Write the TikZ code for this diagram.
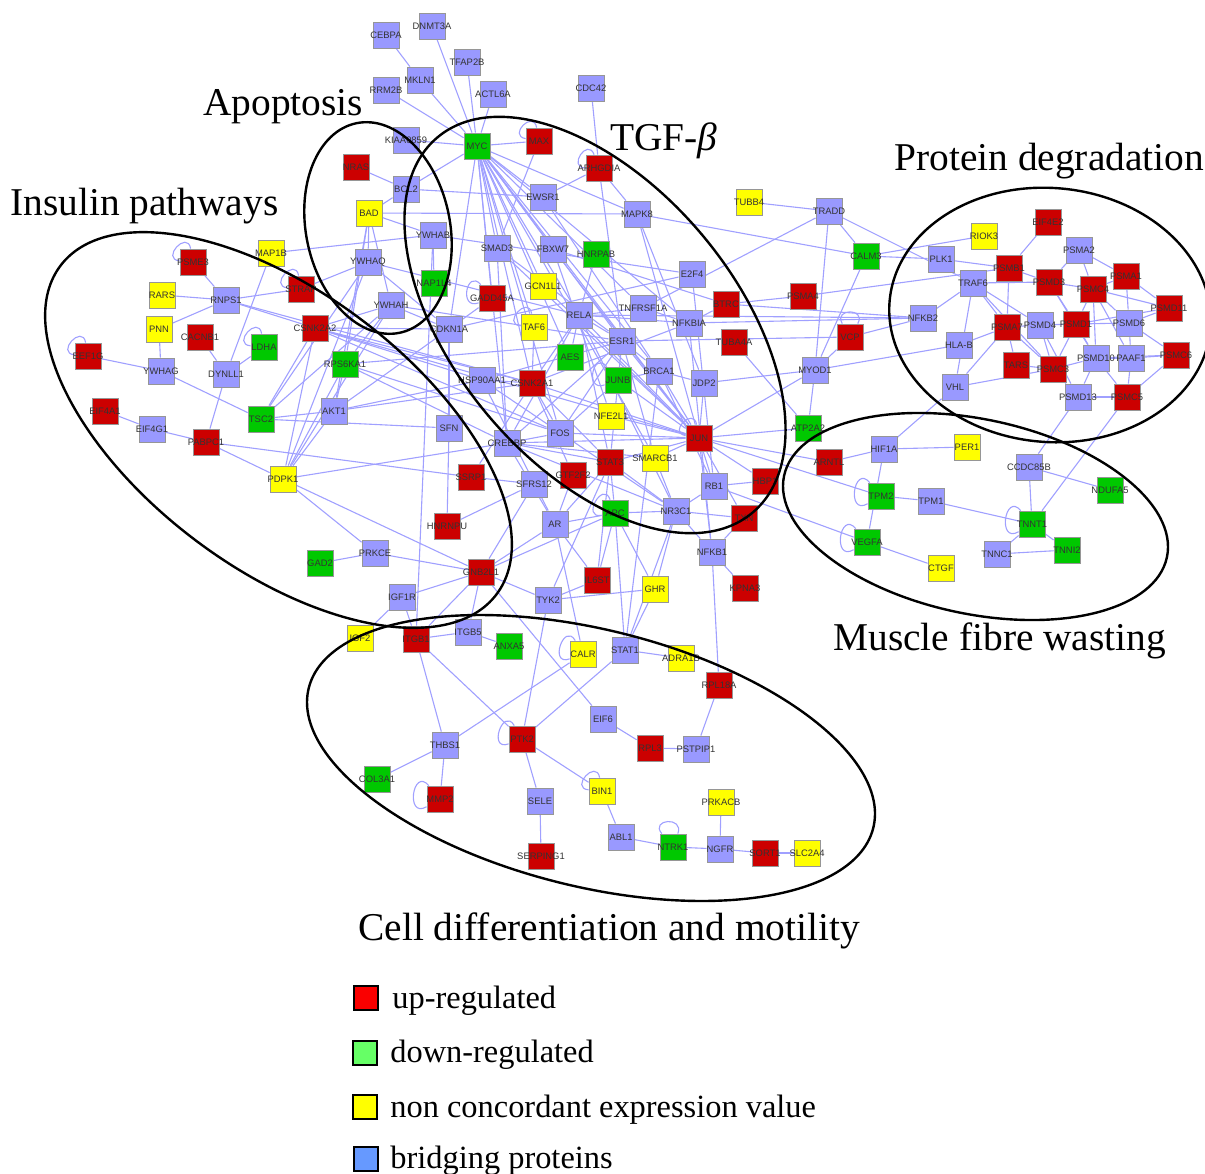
\documentclass[tikz,border=0pt]{standalone}
\usepackage{fontspec}
\setmainfont{Liberation Serif}
\newfontfamily\genefont{Liberation Sans}
\usetikzlibrary{backgrounds}
\definecolor{upc}{RGB}{204,0,0}
\definecolor{dnc}{RGB}{0,200,0}
\definecolor{ncc}{RGB}{255,255,0}
\definecolor{brc}{RGB}{153,153,255}
\definecolor{edgec}{RGB}{160,160,255}
\definecolor{nodeb}{RGB}{150,150,150}
\definecolor{lgup}{RGB}{250,0,0}
\definecolor{lgdn}{RGB}{102,255,102}
\definecolor{lgnc}{RGB}{255,255,0}
\definecolor{lgbr}{RGB}{102,153,255}
\tikzset{
 gene/.style={draw=nodeb, line width=0.4pt, minimum size=13pt, inner sep=0pt, font=\genefont\fontsize{4.7}{4.7}\selectfont, text=black!80,
   execute at begin node={\hbox to 0pt\bgroup\hss}, execute at end node={\hss\egroup}},
 gR/.style={gene, fill=upc}, gG/.style={gene, fill=dnc}, gY/.style={gene, fill=ncc}, gB/.style={gene, fill=brc},
 edge/.style={draw=edgec, line width=0.55pt},
 grp/.style={draw=black, line width=1.2pt},
 title/.style={font=\fontsize{19.7}{22}\selectfont, anchor=base west, inner sep=0pt},
 legtxt/.style={font=\fontsize{16.2}{18}\selectfont, anchor=base west, inner sep=0pt},
 legbox/.style={draw=black, line width=1pt, minimum size=12pt, inner sep=0pt}
}
\begin{document}
\begin{tikzpicture}[x=0.5pt,y=-0.5pt]
\useasboundingbox (0,0) rectangle (1205,1173);
% ---------------- nodes ----------------
\node[gB] (CEBPA) at (386,35) {CEBPA};
\node[gB] (DNMT3A) at (432,26) {DNMT3A};
\node[gB] (TFAP2B) at (467,62) {TFAP2B};
\node[gB] (MKLN1) at (420,80) {MKLN1};
\node[gB] (RRM2B) at (386,90) {RRM2B};
\node[gB] (ACTL6A) at (493,94) {ACTL6A};
\node[gB] (CDC42) at (591,88) {CDC42};
\node[gB] (KIAA0859) at (406,140) {KIAA0859};
\node[gG] (MYC) at (477,146) {MYC};
\node[gR] (MAX) at (539,141) {MAX};
\node[gR] (ARHGDIA) at (599,168) {ARHGDIA};
\node[gR] (NRAS) at (356,167) {NRAS};
\node[gB] (BCL2) at (406,189) {BCL2};
\node[gY] (BAD) at (369,213) {BAD};
\node[gB] (EWSR1) at (543,197) {EWSR1};
\node[gB] (MAPK8) at (637,214) {MAPK8};
\node[gY] (TUBB4) at (749,202) {TUBB4};
\node[gB] (TRADD) at (829,211) {TRADD};
\node[gR] (EIF4E2) at (1048,222) {EIF4E2};
\node[gY] (RIOK3) at (984,236) {RIOK3};
\node[gB] (YWHAB) at (433,235) {YWHAB};
\node[gY] (MAP1B) at (271,253) {MAP1B};
\node[gB] (SMAD3) at (497,248) {SMAD3};
\node[gB] (FBXW7) at (553,249) {FBXW7};
\node[gG] (HNRPAB) at (596,254) {HNRPAB};
\node[gG] (CALM3) at (866,256) {CALM3};
\node[gB] (PSMA2) at (1079,250) {PSMA2};
\node[gB] (PLK1) at (941,259) {PLK1};
\node[gR] (PSME3) at (193,262) {PSME3};
\node[gB] (YWHAQ) at (368,262) {YWHAQ};
\node[gR] (PSMB1) at (1009,268) {PSMB1};
\node[gB] (E2F4) at (692,274) {E2F4};
\node[gR] (PSMA1) at (1126,276) {PSMA1};
\node[gR] (PSMD3) at (1049,282) {PSMD3};
\node[gB] (TRAF6) at (973,283) {TRAF6};
\node[gG] (NAP1L4) at (434,283) {NAP1L4};
\node[gY] (GCN1L1) at (543,286) {GCN1L1};
\node[gR] (STRAP) at (301,289) {STRAP};
\node[gR] (PSMC4) at (1093,289) {PSMC4};
\node[gY] (RARS) at (162,295) {RARS};
\node[gR] (PSMA4) at (803,296) {PSMA4};
\node[gR] (GADD45A) at (492,298) {GADD45A};
\node[gB] (RNPS1) at (226,300) {RNPS1};
\node[gR] (BTRC) at (726,304) {BTRC};
\node[gB] (YWHAH) at (391,305) {YWHAH};
\node[gB] (TNFRSF1A) at (643,308) {TNFRSF1A};
\node[gR] (PSMD11) at (1169,308) {PSMD11};
\node[gB] (RELA) at (579,315) {RELA};
\node[gB] (NFKB2) at (923,318) {NFKB2};
\node[gB] (NFKBIA) at (689,323) {NFKBIA};
\node[gB] (PSMD6) at (1129,323) {PSMD6};
\node[gR] (PSMD1) at (1076,324) {PSMD1};
\node[gB] (PSMD4) at (1040,325) {PSMD4};
\node[gR] (PSMA7) at (1007,327) {PSMA7};
\node[gY] (TAF6) at (534,327) {TAF6};
\node[gR] (CSNK2A2) at (315,328) {CSNK2A2};
\node[gB] (CDKN1A) at (449,329) {CDKN1A};
\node[gY] (PNN) at (159,329) {PNN};
\node[gR] (CACNB1) at (200,337) {CACNB1};
\node[gR] (VCP) at (850,337) {VCP};
\node[gB] (ESR1) at (622,341) {ESR1};
\node[gR] (TUBA4A) at (734,342) {TUBA4A};
\node[gB] (HLAB) at (959,345) {HLA-B};
\node[gG] (LDHA) at (264,347) {LDHA};
\node[gR] (PSMC6) at (1176,355) {PSMC6};
\node[gR] (EEF1G) at (88,356) {EEF1G};
\node[gG] (AES) at (570,357) {AES};
\node[gB] (PSMD10) at (1096,358) {PSMD10};
\node[gB] (PAAF1) at (1131,358) {PAAF1};
\node[gG] (RPS6KA1) at (345,364) {RPS6KA1};
\node[gR] (TARS) at (1016,365) {TARS};
\node[gR] (PSMC3) at (1053,369) {PSMC3};
\node[gB] (MYOD1) at (815,370) {MYOD1};
\node[gB] (YWHAG) at (161,371) {YWHAG};
\node[gB] (BRCA1) at (659,371) {BRCA1};
\node[gB] (DYNLL1) at (226,374) {DYNLL1};
\node[gB] (HSP90AA1) at (482,380) {HSP90AA1};
\node[gG] (JUNB) at (618,380) {JUNB};
\node[gR] (CSNK2A1) at (532,383) {CSNK2A1};
\node[gB] (JDP2) at (704,383) {JDP2};
\node[gB] (VHL) at (955,387) {VHL};
\node[gB] (PSMD13) at (1078,397) {PSMD13};
\node[gR] (PSMC5) at (1127,397) {PSMC5};
\node[gR] (EIF4A1) at (105,411) {EIF4A1};
\node[gB] (AKT1) at (334,411) {AKT1};
\node[gY] (NFE2L1) at (611,416) {NFE2L1};
\node[gG] (TSC2) at (261,419) {TSC2};
\node[gB] (SFN) at (449,428) {SFN};
\node[gG] (ATP2A2) at (808,428) {ATP2A2};
\node[gB] (EIF4G1) at (152,429) {EIF4G1};
\node[gB] (FOS) at (560,433) {FOS};
\node[gR] (JUN) at (699,438) {JUN};
\node[gR] (PABPC1) at (206,442) {PABPC1};
\node[gB] (CREBBP) at (507,443) {CREBBP};
\node[gY] (PER1) at (967,447) {PER1};
\node[gB] (HIF1A) at (884,449) {HIF1A};
\node[gY] (SMARCB1) at (655,458) {SMARCB1};
\node[gR] (STAT3) at (610,462) {STAT3};
\node[gR] (ARNTL) at (829,462) {ARNTL};
\node[gB] (CCDC85B) at (1029,467) {CCDC85B};
\node[gR] (GTF2F2) at (573,475) {GTF2F2};
\node[gR] (SSRP1) at (471,477) {SSRP1};
\node[gY] (PDPK1) at (283,479) {PDPK1};
\node[gR] (HBP1) at (765,481) {HBP1};
\node[gB] (SFRS12) at (534,484) {SFRS12};
\node[gB] (RB1) at (714,486) {RB1};
\node[gG] (NDUFA5) at (1110,490) {NDUFA5};
\node[gG] (TPM2) at (881,496) {TPM2};
\node[gB] (TPM1) at (931,501) {TPM1};
\node[gB] (NR3C1) at (676,511) {NR3C1};
\node[gG] (APC) at (615,513) {APC};
\node[gR] (TXN) at (744,518) {TXN};
\node[gB] (AR) at (555,524) {AR};
\node[gG] (TNNT1) at (1032,524) {TNNT1};
\node[gR] (HNRNPU) at (447,526) {HNRNPU};
\node[gG] (VEGFA) at (867,542) {VEGFA};
\node[gG] (TNNI2) at (1067,550) {TNNI2};
\node[gB] (NFKB1) at (712,552) {NFKB1};
\node[gB] (PRKCE) at (375,553) {PRKCE};
\node[gB] (TNNC1) at (997,554) {TNNC1};
\node[gG] (GAD2) at (320,563) {GAD2};
\node[gY] (CTGF) at (941,568) {CTGF};
\node[gR] (GNB2L1) at (481,572) {GNB2L1};
\node[gR] (IL6ST) at (597,580) {IL6ST};
\node[gR] (KPNA3) at (745,588) {KPNA3};
\node[gY] (GHR) at (655,589) {GHR};
\node[gB] (IGF1R) at (402,597) {IGF1R};
\node[gB] (TYK2) at (548,600) {TYK2};
\node[gB] (ITGB5) at (468,632) {ITGB5};
\node[gY] (IGF2) at (360,638) {IGF2};
\node[gR] (ITGB1) at (416,639) {ITGB1};
\node[gG] (ANXA5) at (509,646) {ANXA5};
\node[gB] (STAT1) at (625,650) {STAT1};
\node[gY] (CALR) at (583,654) {CALR};
\node[gY] (ADRA1B) at (681,658) {ADRA1B};
\node[gR] (RPL18A) at (719,685) {RPL18A};
\node[gB] (EIF6) at (603,719) {EIF6};
\node[gR] (PTK2) at (522,739) {PTK2};
\node[gB] (THBS1) at (445,745) {THBS1};
\node[gR] (RPL3) at (650,748) {RPL3};
\node[gB] (PSTPIP1) at (696,749) {PSTPIP1};
\node[gG] (COL3A1) at (377,779) {COL3A1};
\node[gY] (BIN1) at (602,791) {BIN1};
\node[gR] (MMP2) at (440,799) {MMP2};
\node[gB] (SELE) at (540,801) {SELE};
\node[gY] (PRKACB) at (721,802) {PRKACB};
\node[gB] (ABL1) at (621,837) {ABL1};
\node[gG] (NTRK1) at (673,847) {NTRK1};
\node[gB] (NGFR) at (720,849) {NGFR};
\node[gR] (SORT1) at (765,853) {SORT1};
\node[gY] (SLC2A4) at (807,853) {SLC2A4};
\node[gR] (SERPING1) at (541,856) {SERPING1};
% ---------------- edges ----------------
\begin{scope}[on background layer]
\foreach \a/\b in {CEBPA/MKLN1, MKLN1/MYC, DNMT3A/MYC, TFAP2B/MYC, ACTL6A/MYC, RRM2B/MYC, KIAA0859/MYC, MYC/MAX,
 CDC42/ARHGDIA, ARHGDIA/EWSR1, ARHGDIA/ESR1, ARHGDIA/MAPK8, MAX/SMAD3, MYC/BCL2, MYC/CDKN1A, MYC/GADD45A, MYC/SMAD3,
 MYC/TAF6, MYC/RELA, MYC/FBXW7, MYC/EWSR1, MYC/ESR1, MYC/JUN, MYC/BRCA1, MYC/NFKBIA, MYC/TNFRSF1A, MYC/FOS,
 MYC/CREBBP, MYC/CSNK2A1, MYC/AES, MYC/SMARCB1, MYC/MAPK8, MYC/GCN1L1,
 NRAS/BCL2, BAD/BCL2, BAD/YWHAQ, BAD/YWHAH, BAD/YWHAB, BAD/MAPK8, BAD/AKT1, BAD/RPS6KA1, BCL2/EWSR1,
 TUBB4/TRADD, TRADD/CALM3, TRADD/MYOD1, TRADD/TNFRSF1A, TRADD/TRAF6, EIF4E2/PSMB1,
 MAP1B/YWHAB, MAP1B/DYNLL1, MAPK8/JUN, MAPK8/JDP2, EWSR1/BRCA1,
 PSME3/RNPS1, RARS/RNPS1, PNN/RNPS1, PNN/YWHAG, RNPS1/STRAP, RNPS1/CSNK2A2, RNPS1/CSNK2A1, CACNB1/DYNLL1,
 LDHA/DYNLL1, EEF1G/YWHAG, YWHAG/TSC2, DYNLL1/PABPC1, EIF4A1/EIF4G1, EIF4G1/PABPC1, PABPC1/SSRP1, PABPC1/PDPK1,
 CSNK2A2/TSC2, CSNK2A2/CSNK2A1, CSNK2A2/CDKN1A, CSNK2A2/JUN, CSNK2A2/FOS, CSNK2A2/HSP90AA1, CSNK2A2/YWHAH,
 STRAP/YWHAQ, RPS6KA1/AKT1, RPS6KA1/CREBBP, RPS6KA1/YWHAH, RPS6KA1/ESR1, RPS6KA1/FOS,
 TSC2/AKT1, TSC2/YWHAQ, TSC2/YWHAH, TSC2/SFN, AKT1/PDPK1, AKT1/HSP90AA1, AKT1/CDKN1A, AKT1/CSNK2A1,
 PDPK1/PRKCE, PDPK1/GNB2L1, PDPK1/YWHAQ, PDPK1/YWHAH, PDPK1/RPS6KA1, PDPK1/CSNK2A2, PDPK1/CREBBP,
 PRKCE/GAD2, PRKCE/GNB2L1, IGF1R/IGF2, IGF1R/ITGB1, IGF1R/GNB2L1, ITGB1/YWHAB,
 YWHAB/NAP1L4, YWHAQ/CDKN1A, YWHAH/CDKN1A, YWHAQ/RELA, YWHAH/ESR1, YWHAB/E2F4,
 SMAD3/JUN, SMAD3/CREBBP, SMAD3/ESR1, FBXW7/JUN, FBXW7/NFE2L1, HNRPAB/RELA, GCN1L1/JUN, GADD45A/CDKN1A,
 TAF6/CSNK2A1, RELA/NFKBIA, RELA/TNFRSF1A, RELA/ESR1, RELA/AES, RELA/CSNK2A1, RELA/JUN, RELA/CREBBP, RELA/STAT3,
 RELA/NR3C1, TNFRSF1A/NFKBIA, NFKBIA/BTRC, NFKBIA/NFKB1, NFKBIA/NFKB2, NFKBIA/CSNK2A1, BTRC/PSMA4, BTRC/FBXW7,
 BTRC/NFKB2, E2F4/RB1, E2F4/CDKN1A, ESR1/BRCA1, ESR1/JUN, ESR1/FOS, ESR1/CREBBP, ESR1/SMARCB1, ESR1/HSP90AA1,
 ESR1/STAT3, JUNB/BRCA1, JUNB/JUN, JUNB/FOS, BRCA1/JUN, BRCA1/JDP2, BRCA1/RB1, BRCA1/STAT1, JDP2/JUN,
 TUBA4A/ATP2A2, CSNK2A1/HSP90AA1, CSNK2A1/FOS, CSNK2A1/JUN, CSNK2A1/SSRP1, CSNK2A1/STAT3, CSNK2A1/GTF2F2,
 HSP90AA1/AR, HSP90AA1/NR3C1, SFN/CDKN1A, SFN/HNRNPU, CREBBP/JUN, CREBBP/STAT3, CREBBP/NR3C1, CREBBP/AR,
 CREBBP/SMARCB1, CREBBP/FOS, FOS/JUN, NFE2L1/JUN, SMARCB1/JUN, SMARCB1/NR3C1, STAT3/JUN, STAT3/NR3C1,
 STAT3/IL6ST, STAT3/TYK2, STAT3/AR, JUN/ATP2A2, JUN/HBP1, JUN/NFKB1, JUN/RB1, JUN/ARNTL, JUN/TXN,
 GTF2F2/AR, SSRP1/SFRS12, SFRS12/HNRNPU, SFRS12/GNB2L1,
 MYOD1/ATP2A2, MYOD1/HLAB, MYOD1/CALM3, MYOD1/VCP, MYOD1/JUN, MYOD1/JDP2, VCP/NFKB2, VCP/ESR1, NFKB2/TRAF6,
 NFKB2/RELA, HLAB/PSMA7, CALM3/PLK1, CALM3/RIOK3, CALM3/MAPK8, PSMA4/PSMB1,
 PLK1/PSMB1, TRAF6/PSMD3, TRAF6/PSMA7, TRAF6/PSMC3, TRAF6/PSMD4, TRAF6/VHL, VHL/PSMA7, VHL/PSMC3, VHL/HIF1A,
 PSMA7/PSMD4, PSMA7/TARS, PSMA7/PSMC3, PSMA7/PSMB1, PSMD4/PSMD1, PSMD4/PSMC3, PSMD4/PSMD13, PSMD1/PSMD6,
 PSMD1/PSMD3, PSMD1/PSMD10, PSMD1/PSMC3, PSMD1/PSMD11, PSMD1/PSMC4, PSMD6/PSMD11, PSMD6/PAAF1, PSMD6/PSMC4,
 PSMD6/PSMA1, PAAF1/PSMC6, PAAF1/PSMD10, PAAF1/PSMC5, PAAF1/PSMC4, PSMD10/PSMC3, PSMD10/PSMC4, PSMD10/PSMC6,
 PSMD10/PSMD13, PSMC3/PSMD13, PSMC3/TARS, PSMD13/PSMC5, PSMC5/PSMC6, PSMB1/PSMD3, PSMD3/PSMC4, PSMC4/PSMA1,
 PSMA2/PSMA1, PSMA2/PSMC4, PSMA2/PSMD3, PSMC4/PSMD11, PSMA1/PSMD11, PSMD3/PSMD10, PSMC6/PSMD6, PSMC5/PSMD10,
 ARNTL/HIF1A, HIF1A/PER1, HIF1A/VEGFA, TPM2/TPM1, TPM1/TNNT1, TNNT1/CCDC85B, TNNT1/TNNC1, TNNT1/TNNI2,
 TNNC1/TNNI2, CCDC85B/NDUFA5, CCDC85B/PSMD13, TNNT1/PSMC5, VEGFA/CTGF, JUN/TPM2, RB1/VEGFA,
 GNB2L1/AR, GNB2L1/APC, GNB2L1/TYK2, GNB2L1/ITGB5, GNB2L1/ITGB1, GNB2L1/EIF6, AR/IL6ST, AR/CALR, AR/APC,
 APC/NR3C1, APC/IL6ST, APC/GHR, APC/STAT1, APC/STAT3, NR3C1/RB1, NR3C1/TXN, NR3C1/NFKB1, NR3C1/STAT1, NR3C1/GHR,
 RB1/HBP1, TXN/NFKB1, NFKB1/KPNA3, NFKB1/RPL18A, TYK2/IL6ST, TYK2/GHR, GHR/STAT1, STAT1/ADRA1B,
 ITGB1/ITGB5, ITGB5/ANXA5, ITGB1/THBS1, ITGB1/PTK2, THBS1/CALR, PTK2/TYK2, PTK2/STAT1, EIF6/RPL3, RPL3/PSTPIP1,
 PSTPIP1/RPL18A, THBS1/COL3A1, THBS1/MMP2, PTK2/SELE, PTK2/BIN1, BIN1/ABL1, SELE/SERPING1, ABL1/NTRK1,
 NTRK1/NGFR, NGFR/PRKACB, NGFR/SORT1, SORT1/SLC2A4}
 \draw[edge] (\a) -- (\b);
\foreach \n/\o/\i in {MAX/100/170, ARHGDIA/110/180, PSME3/100/175, STRAP/100/175, LDHA/100/175, EEF1G/100/175,
 TAF6/100/175, JUN/100/170, VCP/60/120, APC/110/190, CALR/120/200, PTK2/120/200, MMP2/130/210, BIN1/100/175,
 NTRK1/70/130, TPM2/130/210, VEGFA/130/210, TNNT1/130/210, GADD45A/130/200, JUNB/130/200}
 \draw[edge] (\n) to[out=\o,in=\i,looseness=3,min distance=6pt] (\n);
\end{scope}
% ---------------- group outlines ----------------
\draw[grp, rotate around={-78.4:(378,228)}] (378,228) ellipse [x radius=107, y radius=72];
\draw[grp, rotate around={-50:(595,325)}] (595,325) ellipse [x radius=245, y radius=140];
\draw[grp, rotate around={-37:(278.5,430)}] (278.5,430) ellipse [x radius=273, y radius=138];
\draw[grp, rotate around={-5:(1050,315)}] (1050,315) ellipse [x radius=161, y radius=127];
\draw[grp, rotate around={-12:(975.5,516.5)}] (975.5,516.5) ellipse [x radius=195.7, y radius=97.3];
\draw[grp, rotate around={-13.9:(591,758)}] (591,758) ellipse [x radius=290.8, y radius=128.5];
% ---------------- titles ----------------
\node[title] (tApop) at (203,115) {Apoptosis};
\node[title] (tIns) at (10,215) {Insulin pathways};
\node[title] (tTGF) at (610,150) {TGF-{\itshape β}};
\node[title] (tProt) at (894,170) {Protein degradation};
\node[title] (tMus) at (833,650) {Muscle fibre wasting};
\node[title] (tCell) at (358,940) {Cell differentiation and motility};
% ---------------- legend ----------------
\node[legbox, fill=lgup] (lUp) at (366,998) {};
\node[legbox, fill=lgdn] (lDn) at (365,1053) {};
\node[legbox, fill=lgnc] (lNc) at (365,1107) {};
\node[legbox, fill=lgbr] (lBr) at (366,1159) {};
\node[legtxt] (tUp) at (392,1008) {up-regulated};
\node[legtxt] (tDn) at (390,1062) {down-regulated};
\node[legtxt] (tNc) at (390,1117) {non concordant expression value};
\node[legtxt] (tBr) at (390,1168) {bridging proteins};
\end{tikzpicture}
\end{document}
